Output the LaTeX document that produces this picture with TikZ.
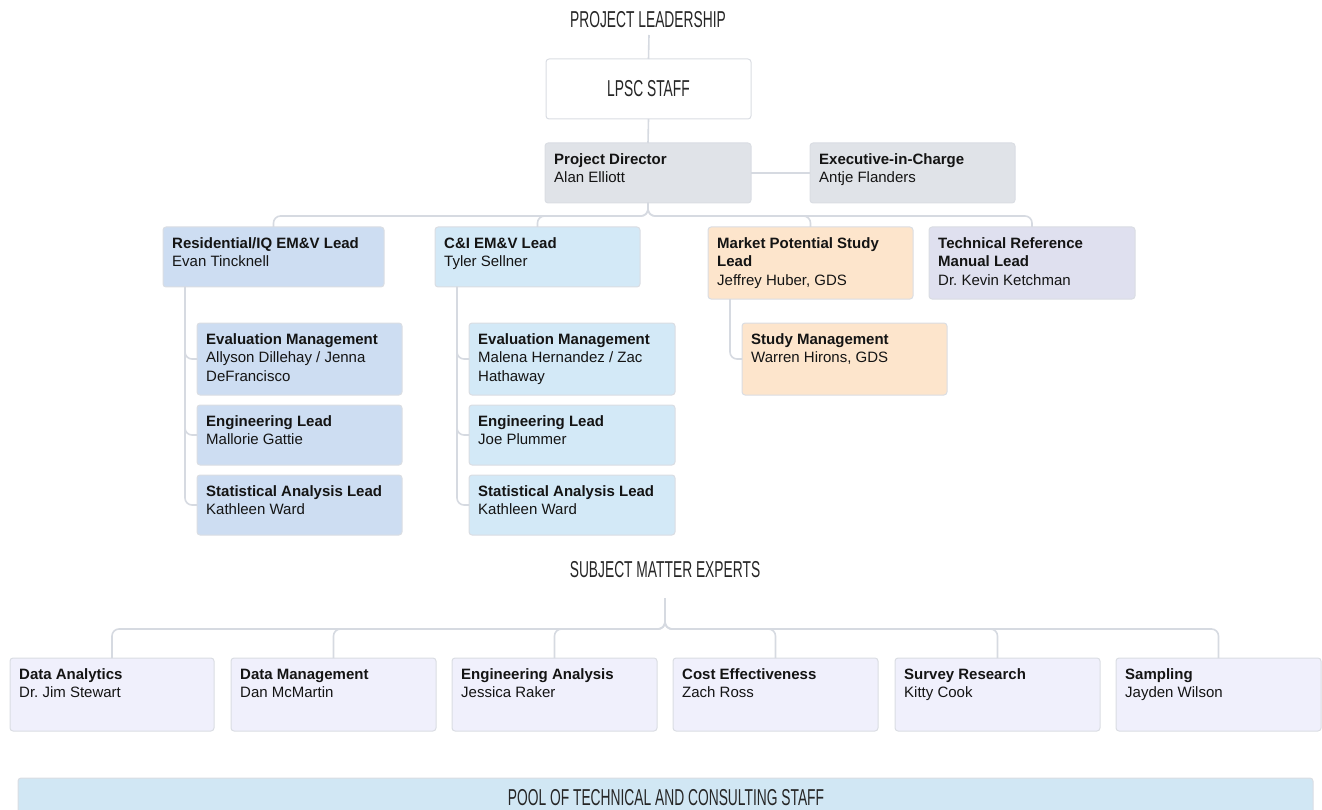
\documentclass[tikz,border=0pt]{standalone}
\usepackage{fontspec}
\setmainfont{Liberation Sans}
\newfontfamily\headfont[FakeStretch=0.6]{Liberation Sans}
\usetikzlibrary{calc}
\frenchspacing

\definecolor{ink}{HTML}{141414}
\definecolor{headink}{HTML}{262626}
\definecolor{cardline}{HTML}{DADDE3}
\definecolor{connline}{HTML}{D6DAE1}
\definecolor{leadgray}{HTML}{E0E3E8}
\definecolor{resblue}{HTML}{CDDDF2}
\definecolor{cniblue}{HTML}{D3E9F7}
\definecolor{mktpeach}{HTML}{FDE5CC}
\definecolor{trmlav}{HTML}{DFE0EF}
\definecolor{smefill}{HTML}{F0F0FC}
\definecolor{poolfill}{HTML}{D1E7F4}

\tikzset{
  card/.style={draw=cardline, line width=1pt, rounded corners=3pt,
    anchor=north west, inner sep=0pt, outer sep=0pt},
  conn/.style={draw=connline, line width=1.6pt, rounded corners=7pt},
  cardtext/.style={anchor=north west, inner sep=0pt,
    font=\fontsize{15}{18.5}\selectfont, text=ink},
  head/.style={font=\headfont\fontsize{23}{26}\selectfont, text=headink, inner sep=0pt}
}

% \orgcard{name}{x}{y}{width}{height}{fill}{lines}
\newcommand\orgcard[7]{%
  \node[card, fill=#6, minimum width=#4, minimum height=#5] (#1) at (#2,#3) {};
  \node[cardtext] (#1-t) at ($(#1.north west)+(9,8)$)
    {\begin{tabular}{@{}l@{}}#7\end{tabular}};}

\begin{document}
\begin{tikzpicture}[x=1pt, y=-1pt]
\useasboundingbox (0,0) rectangle (1322,810);
\clip (0,0) rectangle (1322,810);

% ---- project leadership ----
\node[head] (plhead) at (648,19.5) {PROJECT LEADERSHIP};
\coordinate (pltop) at (649,35);
\node[card, fill=white, minimum width=205, minimum height=60, head, anchor=north west]
  (lpsc) at (546,59) {LPSC STAFF};

\orgcard{pd}{545}{143}{206}{60}{leadgray}{\textbf{Project Director}\\Alan Elliott}
\orgcard{exec}{810}{143}{205}{60}{leadgray}{\textbf{Executive-in-Charge}\\Antje Flanders}

% ---- leads ----
\orgcard{res}{163}{227}{221}{60}{resblue}{\textbf{Residential/IQ EM\&V Lead}\\Evan Tincknell}
\orgcard{cni}{435}{227}{205}{60}{cniblue}{\textbf{C\&I EM\&V Lead}\\Tyler Sellner}
\orgcard{mkt}{708}{227}{205}{72}{mktpeach}{\textbf{Market Potential Study}\\\textbf{Lead}\\Jeffrey Huber, GDS}
\orgcard{trm}{929}{227}{206}{72}{trmlav}{\textbf{Technical Reference}\\\textbf{Manual Lead}\\Dr. Kevin Ketchman}

% ---- residential team ----
\orgcard{resEval}{197}{323}{205}{72}{resblue}{\textbf{Evaluation Management}\\Allyson Dillehay / Jenna\\DeFrancisco}
\orgcard{resEng}{197}{405}{205}{60}{resblue}{\textbf{Engineering Lead}\\Mallorie Gattie}
\orgcard{resStat}{197}{475}{205}{60}{resblue}{\textbf{Statistical Analysis Lead}\\Kathleen Ward}

% ---- C&I team ----
\orgcard{cniEval}{469}{323}{206}{72}{cniblue}{\textbf{Evaluation Management}\\Malena Hernandez / Zac\\Hathaway}
\orgcard{cniEng}{469}{405}{206}{60}{cniblue}{\textbf{Engineering Lead}\\Joe Plummer}
\orgcard{cniStat}{469}{475}{206}{60}{cniblue}{\textbf{Statistical Analysis Lead}\\Kathleen Ward}

% ---- market potential team ----
\orgcard{study}{742}{323}{205}{72}{mktpeach}{\textbf{Study Management}\\Warren Hirons, GDS}

% ---- subject matter experts ----
\node[head] (smehead) at (665,570) {SUBJECT MATTER EXPERTS};
\coordinate (smetop) at (665,598);
\orgcard{sa}{10}{658}{204}{73}{smefill}{\textbf{Data Analytics}\\Dr. Jim Stewart}
\orgcard{sb}{231}{658}{205}{73}{smefill}{\textbf{Data Management}\\Dan McMartin}
\orgcard{sc}{452}{658}{205}{73}{smefill}{\textbf{Engineering Analysis}\\Jessica Raker}
\orgcard{sd}{673}{658}{205}{73}{smefill}{\textbf{Cost Effectiveness}\\Zach Ross}
\orgcard{se}{895}{658}{205}{73}{smefill}{\textbf{Survey Research}\\Kitty Cook}
\orgcard{sf}{1116}{658}{205}{73}{smefill}{\textbf{Sampling}\\Jayden Wilson}

% ---- staff pool ----
\node[card, fill=poolfill, minimum width=1295, minimum height=45] (pool) at (18,778) {};
\node[head] (pooltext) at (666,798) {POOL OF TECHNICAL AND CONSULTING STAFF};

% ---- connectors ----
\draw[conn] (pltop) -- (lpsc.north);
\draw[conn] (lpsc.south) -- (pd.north);
\draw[conn] (pd.east) -- (exec.west);
\foreach \c in {res,cni,mkt,trm}
  \draw[conn] (pd.south) |- ($(\c.north)+(0,-11)$) -- (\c.north);
\foreach \c in {resEval,resEng,resStat}
  \draw[conn] ($(res.south west)+(22,0)$) |- (\c.west);
\foreach \c in {cniEval,cniEng,cniStat}
  \draw[conn] ($(cni.south west)+(22,0)$) |- (\c.west);
\draw[conn] ($(mkt.south west)+(22,0)$) |- (study.west);
\foreach \c in {sa,sb,sc,sd,se,sf}
  \draw[conn] (smetop) |- ($(\c.north)+(0,-29)$) -- (\c.north);
\end{tikzpicture}
\end{document}
